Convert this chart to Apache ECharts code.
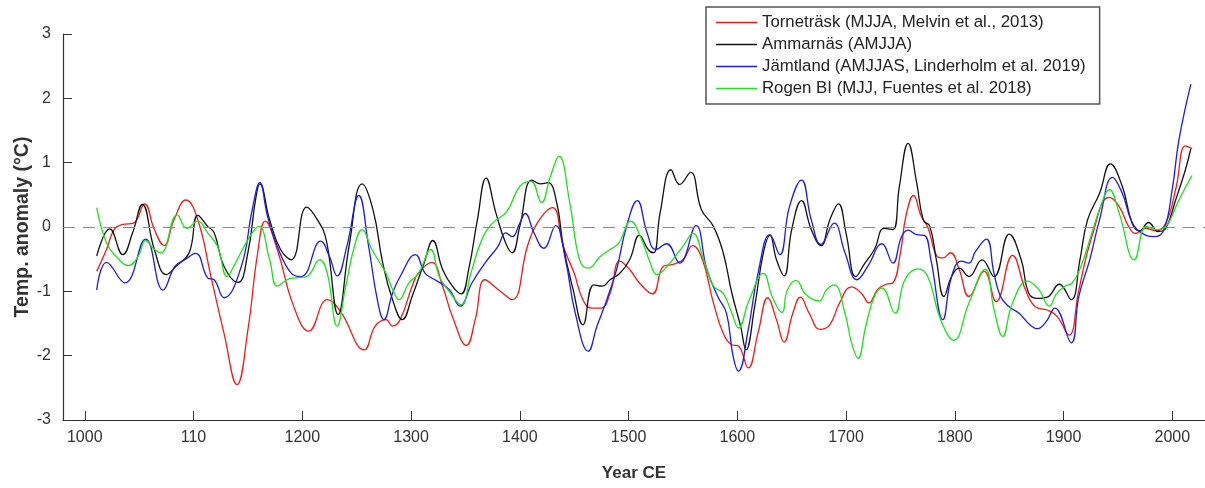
<!DOCTYPE html>
<html>
<head>
<meta charset="utf-8">
<script src="https://cdn.jsdelivr.net/npm/echarts@6/dist/echarts.min.js"></script>
<style>
  html, body { margin: 0; padding: 0; background: #fff; }
  #chart { width: 1205px; height: 488px; }
</style>
</head>
<body>
<div id="chart"></div>
<script>
// Tick positions and their printed labels on the year axis
const tickYears = [1000, 1100, 1200, 1300, 1400, 1500, 1600, 1700, 1800, 1900, 2000];
const tickLabels = ['1000', '110', '1200', '1300', '1400', '1500', '1600', '1700', '1800', '1900', '2000'];

const seriesNames = [
  'Torneträsk (MJJA, Melvin et al., 2013)',
  'Ammarnäs (AMJJA)',
  'Jämtland (AMJJAS, Linderholm et al. 2019)',
  'Rogen BI (MJJ, Fuentes et al. 2018)'
];

// Torneträsk summer temperature anomaly (°C)
const tornYears = [1011,1020,1027,1035,1045,1055,1064,1073,1082,1093,1104,1116,1128,1140,1150,1159,1166,1177,1192,1206,1223,1235,1257,1267,1277,1283,1290,1301,1307,1319,1329,1338,1351,1359,1368,1380,1393,1407,1416,1430,1440,1450,1458,1466,1475,1483,1492,1501,1510,1522,1532,1541,1550,1559,1568,1578,1587,1595,1601,1610,1619,1628,1636,1643,1651,1658,1666,1676,1685,1694,1705,1714,1721,1729,1737,1743,1750,1755,1762,1769,1775,1784,1789,1796,1804,1813,1827,1838,1853,1865,1874,1885,1894,1905,1914,1926,1942,1951,1960,1966,1975,1985,1994,2003,2012,2018];
const tornVals = [-0.69,-0.35,-0.04,0.04,0.06,0.36,-0.04,-0.29,0.11,0.42,0.11,-0.77,-1.65,-2.45,-1.6,-0.4,0.09,-0.35,-1.23,-1.62,-1.13,-1.31,-1.91,-1.54,-1.44,-1.54,-1.44,-0.92,-0.71,-0.55,-0.92,-1.39,-1.84,-1.44,-0.82,-0.97,-1.13,-0.3,0.06,0.3,-0.3,-0.72,-1.13,-1.26,-1.26,-1.03,-0.53,-0.66,-0.87,-1.04,-0.61,-0.58,-0.51,-0.29,-0.51,-1.18,-1.65,-1.83,-1.85,-2.19,-1.65,-1.10,-1.44,-1.79,-1.34,-1.09,-1.34,-1.59,-1.52,-1.18,-0.93,-1.03,-1.18,-0.97,-0.89,-0.87,-0.40,0.17,0.49,0.17,0.0,-0.46,-0.48,-0.4,-0.66,-1.08,-0.69,-1.16,-0.44,-0.98,-1.24,-1.29,-1.39,-1.68,-0.98,-0.15,0.46,0.32,0.0,-0.1,-0.02,-0.06,0.06,0.58,1.26,1.22];

// Ammarnäs
const ammaYears = [1011,1023,1035,1044,1053,1064,1075,1084,1096,1104,1113,1119,1128,1141,1150,1157,1161,1170,1180,1190,1204,1214,1222,1233,1243,1255,1265,1274,1283,1292,1301,1312,1320,1329,1338,1346,1353,1361,1369,1378,1387,1393,1400,1411,1419,1426,1434,1440,1449,1458,1468,1476,1483,1492,1501,1510,1518,1523,1529,1539,1547,1557,1567,1578,1587,1595,1603,1608,1616,1624,1630,1636,1643,1650,1659,1668,1677,1685,1693,1700,1709,1717,1726,1735,1743,1749,1757,1765,1771,1777,1783,1790,1797,1804,1813,1825,1836,1850,1861,1868,1876,1885,1896,1907,1915,1922,1933,1943,1954,1963,1970,1978,1987,1994,2003,2012,2017];
const ammaVals = [-0.45,-0.03,-0.43,-0.09,0.35,-0.35,-0.74,-0.61,-0.4,0.18,0.01,-0.09,-0.61,-0.86,-0.4,0.42,0.67,0.11,-0.35,-0.51,0.31,0.11,-0.2,-1.36,-0.3,0.67,0.27,-0.56,-1.13,-1.44,-1.08,-0.56,-0.21,-0.66,-0.92,-1.04,-0.66,0.11,0.76,0.22,-0.25,-0.4,0.01,0.73,0.67,0.69,0.37,-0.3,-0.97,-1.52,-0.9,-0.92,-0.82,-0.72,-0.51,-0.13,-0.35,-0.4,0.22,0.89,0.66,0.85,0.27,0.01,-0.4,-1.03,-1.54,-1.91,-1.23,-0.4,-0.13,-0.51,-0.76,-0.04,0.41,-0.04,-0.29,0.11,0.36,-0.1,-0.77,-0.57,-0.35,-0.02,-0.04,0.63,1.30,0.68,0.11,0.01,-0.51,-1.08,-0.77,-0.64,-0.77,-0.51,-0.77,-0.11,-0.51,-1.03,-1.11,-1.09,-0.89,-1.13,-0.51,0.11,0.52,0.98,0.63,0.06,-0.06,0.07,-0.07,-0.02,0.42,0.89,1.22];

// Jämtland
const jamtYears = [1011,1020,1037,1056,1072,1083,1092,1102,1113,1119,1128,1144,1154,1161,1168,1177,1190,1199,1217,1225,1232,1241,1252,1261,1269,1275,1283,1290,1304,1313,1322,1335,1345,1356,1368,1380,1387,1393,1400,1405,1413,1422,1433,1442,1451,1463,1471,1480,1489,1498,1508,1517,1525,1535,1547,1562,1572,1582,1590,1596,1601,1610,1619,1630,1639,1648,1659,1668,1677,1689,1699,1710,1720,1733,1743,1751,1757,1765,1772,1778,1789,1797,1806,1813,1819,1829,1836,1842,1850,1859,1869,1876,1884,1892,1907,1914,1924,1933,1945,1954,1962,1969,1983,1992,2000,2006,2017];
const jamtVals = [-0.98,-0.55,-0.87,-0.19,-0.98,-0.61,-0.51,-0.41,-0.79,-0.82,-1.1,-0.61,0.27,0.69,0.17,-0.3,-0.72,-0.77,-0.22,-0.46,-0.76,-0.3,0.49,-0.3,-1.13,-1.44,-1.03,-0.77,-0.43,-0.72,-0.82,-0.97,-1.23,-0.87,-0.56,-0.3,-0.09,-0.15,0.06,0.21,-0.09,-0.33,0.02,-0.51,-1.34,-1.93,-1.54,-1.13,-0.66,0.0,0.41,-0.09,-0.35,-0.26,-0.56,0.02,-0.66,-1.08,-1.34,-2.0,-2.24,-1.6,-0.72,-0.12,-0.43,0.32,0.73,0.11,-0.27,0.06,-0.4,-0.82,-0.61,-0.26,-0.56,-0.15,-0.05,-0.12,-0.13,-0.51,-1.44,-0.77,-0.53,-0.56,-0.38,-0.19,-0.72,-1.08,-1.24,-1.34,-1.52,-1.58,-1.47,-1.26,-1.80,-1.08,-0.51,0.11,0.77,0.52,0.11,-0.06,-0.15,-0.05,0.6,1.35,2.22];

// Rogen blue intensity
const rogenYears = [1011,1020,1029,1040,1049,1056,1064,1070,1085,1094,1104,1113,1122,1131,1137,1150,1160,1170,1177,1186,1194,1204,1216,1223,1232,1240,1248,1255,1264,1277,1283,1289,1298,1307,1318,1326,1335,1346,1355,1365,1375,1388,1400,1410,1420,1428,1436,1446,1455,1463,1474,1483,1491,1502,1511,1520,1526,1538,1550,1559,1569,1578,1587,1595,1601,1611,1624,1632,1641,1646,1654,1663,1675,1682,1689,1699,1705,1711,1718,1726,1733,1745,1754,1766,1775,1787,1799,1813,1828,1836,1844,1853,1867,1877,1887,1893,1901,1908,1916,1926,1934,1942,1951,1965,1976,1985,1994,2006,2018];
const rogenVals = [0.30,-0.25,-0.46,-0.6,-0.46,-0.21,-0.35,-0.4,0.19,-0.02,0.09,-0.09,-0.3,-0.77,-0.61,-0.2,0.01,-0.51,-0.92,-0.82,-0.79,-0.77,-0.51,-0.72,-1.54,-0.92,-0.3,-0.04,-0.35,-0.72,-0.97,-1.13,-0.87,-0.72,-0.35,-0.77,-1.0,-1.21,-0.72,-0.2,0.06,0.24,0.63,0.71,0.38,0.78,1.10,0.37,-0.51,-0.64,-0.46,-0.35,-0.25,0.09,-0.15,-0.56,-0.74,-0.56,-0.3,-0.10,-0.51,-0.92,-1.03,-1.34,-1.57,-1.13,-0.72,-1.08,-1.33,-0.98,-0.83,-1.05,-1.15,-0.98,-0.9,-1.34,-1.8,-2.04,-1.55,-1.08,-0.95,-1.34,-0.82,-0.65,-0.77,-1.44,-1.76,-1.18,-0.66,-1.28,-1.70,-1.18,-0.84,-0.97,-1.23,-1.05,-0.92,-0.87,-0.61,-0.09,0.32,0.58,0.22,-0.51,0.01,-0.04,0.01,0.42,0.80];

const lineColors = ['#ee1c1c', '#111111', '#1c1ce0', '#1fe01f'];
const FONT = '"Liberation Sans", Arial, Helvetica, sans-serif';

function pairs(xs, ys) {
  const n = Math.min(xs.length, ys.length);
  const out = [];
  for (let i = 0; i < n; i++) out.push([xs[i], ys[i]]);
  return out;
}

const dataSets = [
  pairs(tornYears, tornVals),
  pairs(ammaYears, ammaVals),
  pairs(jamtYears, jamtVals),
  pairs(rogenYears, rogenVals)
];

const chart = echarts.init(document.getElementById('chart'), null, { renderer: 'canvas' });

const series = [{
  // dashed zero reference line
  name: 'zero',
  type: 'line',
  data: [],
  silent: true,
  z: 1,
  markLine: {
    silent: true,
    symbol: 'none',
    label: { show: false },
    lineStyle: { type: [12, 8], color: '#8a8a8a', width: 1.2 },
    data: [{ yAxis: 0 }],
    animation: false
  }
}];

seriesNames.forEach((name, i) => {
  series.push({
    name: name,
    type: 'line',
    data: dataSets[i],
    showSymbol: false,
    symbol: 'none',
    smooth: 0.45,
    z: 2 + i,
    lineStyle: { color: lineColors[i], width: 1.3 },
    itemStyle: { color: lineColors[i] }
  });
});

chart.setOption({
  animation: false,
  backgroundColor: '#ffffff',
  grid: { left: 63, top: 34, width: 1145, height: 386 },
  legend: {
    data: seriesNames,
    orient: 'vertical',
    left: 706,
    top: 7,
    icon: 'rect',
    itemWidth: 41,
    itemHeight: 1.5,
    itemGap: 5,
    padding: [7, 14, 7, 10],
    borderColor: '#555',
    borderWidth: 1.5,
    backgroundColor: '#ffffff',
    textStyle: { fontFamily: FONT, fontSize: 16.8, color: '#222' }
  },
  xAxis: {
    type: 'value',
    min: 980,
    max: 2030,
    name: 'Year CE',
    nameLocation: 'middle',
    nameGap: 45,
    nameMoveOverlap: false,
    nameTextStyle: { fontFamily: FONT, fontSize: 17, fontWeight: 'bold', color: '#333' },
    axisLine: { onZero: false, lineStyle: { color: '#333', width: 1.2 } },
    axisTick: { inside: true, length: 9, customValues: tickYears, lineStyle: { color: '#333', width: 1 } },
    axisLabel: {
      customValues: tickYears,
      formatter: v => tickLabels[tickYears.indexOf(v)],
      fontFamily: FONT, fontSize: 16, color: '#333', margin: 10
    },
    splitLine: { show: false }
  },
  yAxis: {
    type: 'value',
    min: -3,
    max: 3,
    interval: 1,
    name: 'Temp. anomaly (°C)',
    nameLocation: 'middle',
    nameGap: 30,
    nameMoveOverlap: false,
    nameTextStyle: { fontFamily: FONT, fontSize: 19.5, fontWeight: 'bold', color: '#333' },
    axisLine: { show: true, onZero: false, lineStyle: { color: '#333', width: 1.2 } },
    axisTick: { show: true, inside: true, length: 9, lineStyle: { color: '#333', width: 1 } },
    axisLabel: { fontFamily: FONT, fontSize: 16, color: '#333', margin: 12 },
    splitLine: { show: false }
  },
  series: series
});
</script>
</body>
</html>
